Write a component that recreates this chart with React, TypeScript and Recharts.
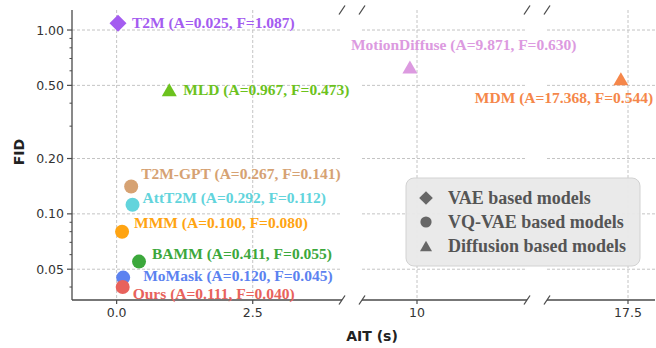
import { ScatterChart, Scatter, XAxis, YAxis, CartesianGrid } from 'recharts';

// model data
const modelNames = ['T2M', 'MLD', 'MotionDiffuse', 'MDM', 'T2M-GPT', 'AttT2M', 'MMM', 'BAMM', 'MoMask', 'Ours'];
const aitValues = [0.025, 0.967, 9.871, 17.368, 0.267, 0.292, 0.1, 0.411, 0.12, 0.111];
const fidValues = [1.087, 0.473, 0.63, 0.544, 0.141, 0.112, 0.08, 0.055, 0.045, 0.04];
const modelFamilies = ['VAE', 'Diffusion', 'Diffusion', 'Diffusion', 'VQ-VAE', 'VQ-VAE', 'VQ-VAE', 'VQ-VAE', 'VQ-VAE', 'VQ-VAE'];

const legendFamilies = ['VAE', 'VQ-VAE', 'Diffusion'];
const legendLabels = ['VAE based models', 'VQ-VAE based models', 'Diffusion based models'];

const yMajorTicks = [0.05, 0.1, 0.2, 0.5, 1.0];
const yTickLabels = ['0.05', '0.10', '0.20', '0.50', '1.00'];
const yMinorTicks = [0.04, 0.06, 0.07, 0.08, 0.09, 0.3, 0.4, 0.6, 0.7, 0.8, 0.9];

const xSegmentDomains = [[-0.82, 4.14], [9, 12], [16, 18]];
const xSegmentTicks = [[0, 2.5], [10], [17.5]];
const xSegmentTickLabels = [['0.0', '2.5'], ['10'], ['17.5']];

// styles
const colors: Record<string, string> = {
    T2M: '#a45cf0',
    MLD: '#6cc21d',
    MotionDiffuse: '#dc9ae0',
    MDM: '#f5874a',
    'T2M-GPT': '#d6a273',
    AttT2M: '#62d4dc',
    MMM: '#ffa412',
    BAMM: '#3ca83c',
    MoMask: '#5c82f0',
    Ours: '#e8625c',
};
// [dx, dy] from marker centre to label start
const labelOffsets: Record<string, [number, number]> = {
    T2M: [14, -1],
    MLD: [14, 0],
    MotionDiffuse: [-59, -22],
    MDM: [-146, 19],
    'T2M-GPT': [10, -13],
    AttT2M: [10, -7],
    MMM: [12, -9],
    BAMM: [13, -8],
    MoMask: [20, -2],
    Ours: [10, 6],
};

const W = 656;
const H = 348;
const PLOT_TOP = 10;
const PLOT_BOTTOM = 300;
const X_AXIS_H = 30;
const Y_AXIS_W = 72;
const TICK_SIZE = 5;
const TICK_MARGIN = 3;
const Y_DOMAIN: [number, number] = [0.034, 1.285];
const segmentPixels = [[72, 342], [362, 527], [547, 655]];
const AXIS_COLOR = '#4a4a4a';
const GRID_COLOR = '#c4c4c4';
const SANS = '"DejaVu Sans", sans-serif';
const SERIF = '"Liberation Serif", "Times New Roman", serif';

const points = modelNames.map((name, i) => ({
    name,
    ait: aitValues[i],
    fid: fidValues[i],
    family: modelFamilies[i],
}));

function Marker({ family, cx, cy, color, scale = 1 }: { family: string; cx: number; cy: number; color: string; scale?: number }) {
    if (family === 'VAE') {
        const s = 8.5 * scale;
        return <polygon points={`${cx},${cy - s} ${cx + s},${cy} ${cx},${cy + s} ${cx - s},${cy}`} fill={color} />;
    }
    if (family === 'Diffusion') {
        const w = 7.5 * scale;
        const h = 6.5 * scale;
        return <polygon points={`${cx},${cy - h} ${cx + w},${cy + h} ${cx - w},${cy + h}`} fill={color} />;
    }
    return <circle cx={cx} cy={cy} r={7 * scale} fill={color} />;
}

const renderPoint = (props: any) => {
    const { cx, cy, payload } = props;
    if (cx == null || cy == null) return <g />;
    const color = colors[payload.name];
    const [dx, dy] = labelOffsets[payload.name];
    return (
        <g>
            <Marker family={payload.family} cx={cx} cy={cy} color={color} />
            <text
                x={cx + dx}
                y={cy + dy}
                dominantBaseline="central"
                fill={color}
                fontFamily={SERIF}
                fontWeight="bold"
                fontSize={15.5}
            >
                {`${payload.name} (A=${payload.ait.toFixed(3)}, F=${payload.fid.toFixed(3)})`}
            </text>
        </g>
    );
};

const YTick = (props: any) => {
    const { x, y, payload } = props;
    const axisX = x + TICK_SIZE + TICK_MARGIN;
    const idx = yMajorTicks.indexOf(payload.value);
    if (idx < 0) {
        return <line x1={axisX - 2.5} x2={axisX} y1={y} y2={y} stroke={AXIS_COLOR} strokeWidth={1} />;
    }
    return (
        <g>
            <line x1={axisX - TICK_SIZE} x2={axisX} y1={y} y2={y} stroke={AXIS_COLOR} strokeWidth={1.2} />
            <text x={x} y={y} textAnchor="end" dominantBaseline="central" fill="#333" fontFamily={SANS} fontSize={12.5}>
                {yTickLabels[idx]}
            </text>
        </g>
    );
};

function Segment({ index }: { index: number }) {
    const domain = xSegmentDomains[index];
    const [left, right] = segmentPixels[index];
    const first = index === 0;
    const last = index === xSegmentDomains.length - 1;
    const data = points.filter((p) => p.ait >= domain[0] && p.ait <= domain[1]);
    const ticks = xSegmentTicks[index];
    const tickLabels = xSegmentTickLabels[index];
    const allYTicks = [...yMajorTicks, ...yMinorTicks].sort((a, b) => a - b);

    return (
        <div style={{ position: 'absolute', left: 0, top: 0 }}>
            <ScatterChart
                width={W}
                height={H}
                margin={{ top: PLOT_TOP, right: W - right, bottom: H - PLOT_BOTTOM - X_AXIS_H, left: first ? left - Y_AXIS_W : left }}
            >
                <XAxis
                    dataKey="ait"
                    type="number"
                    domain={domain}
                    ticks={ticks}
                    interval={0}
                    height={X_AXIS_H}
                    tickSize={4}
                    tickMargin={4}
                    tickFormatter={(v: number) => tickLabels[ticks.indexOf(v)] ?? String(v)}
                    tick={{ fill: '#333', fontSize: 12.5, fontFamily: SANS }}
                    tickLine={{ stroke: AXIS_COLOR, strokeWidth: 1.2 }}
                    axisLine={{ stroke: AXIS_COLOR, strokeWidth: 1.3 }}
                />
                <XAxis
                    xAxisId="top"
                    orientation="top"
                    type="number"
                    domain={domain}
                    height={0}
                    tick={false}
                    tickLine={false}
                    axisLine={{ stroke: AXIS_COLOR, strokeWidth: 1.3 }}
                />
                <YAxis
                    dataKey="fid"
                    type="number"
                    scale="log"
                    domain={Y_DOMAIN}
                    ticks={allYTicks}
                    interval={0}
                    hide={!first}
                    width={Y_AXIS_W}
                    tickSize={TICK_SIZE}
                    tickMargin={TICK_MARGIN}
                    tickLine={false}
                    tick={<YTick />}
                    axisLine={{ stroke: AXIS_COLOR, strokeWidth: 1.3 }}
                />
                {last && (
                    <YAxis
                        yAxisId="right"
                        orientation="right"
                        type="number"
                        scale="log"
                        domain={Y_DOMAIN}
                        width={0}
                        tick={false}
                        tickLine={false}
                        axisLine={{ stroke: AXIS_COLOR, strokeWidth: 1.3 }}
                    />
                )}
                <Scatter data={data} shape={renderPoint} isAnimationActive={false} />
                {/* grid drawn over the markers, as in the source figure */}
                <CartesianGrid stroke={GRID_COLOR} strokeDasharray="3 2" horizontalValues={yMajorTicks} verticalValues={ticks} />
            </ScatterChart>
        </div>
    );
}

function Overlay() {
    const breaks: number[] = [];
    for (let i = 0; i < segmentPixels.length - 1; i++) {
        breaks.push(segmentPixels[i][1], segmentPixels[i + 1][0]);
    }
    const legend = { x: 406, y: 178, w: 234, h: 88 };
    return (
        <svg width={W} height={H} style={{ position: 'absolute', left: 0, top: 0, pointerEvents: 'none' }}>
            {breaks.map((bx) =>
                [PLOT_TOP, PLOT_BOTTOM].map((by) => (
                    <line key={`${bx}-${by}`} x1={bx - 3} y1={by + 4.5} x2={bx + 3} y2={by - 4.5} stroke={AXIS_COLOR} strokeWidth={1.3} />
                ))
            )}
            <text
                transform={`translate(18.5, 152) rotate(-90)`}
                textAnchor="middle"
                dominantBaseline="central"
                fontFamily={SANS}
                fontWeight="bold"
                fontSize={14}
                fill="#222"
            >
                FID
            </text>
            <text x={372} y={336} textAnchor="middle" dominantBaseline="central" fontFamily={SANS} fontWeight="bold" fontSize={14} fill="#222">
                AIT (s)
            </text>
            <rect x={legend.x} y={legend.y} width={legend.w} height={legend.h} rx={8} fill="#e9e9e9" fillOpacity={0.94} stroke="#d2d2d2" />
            {legendFamilies.map((fam, i) => (
                <g key={fam}>
                    <Marker family={fam} cx={426} cy={198 + i * 24} color="#676767" scale={0.8} />
                    <text x={448} y={198 + i * 24} dominantBaseline="central" fontFamily={SERIF} fontWeight="bold" fontSize={18} fill="#555">
                        {legendLabels[i]}
                    </text>
                </g>
            ))}
        </svg>
    );
}

export default function App() {
    return (
        <div style={{ position: 'absolute', left: 0, top: 0, width: W, height: H, background: '#fff' }}>
            {xSegmentDomains.map((_, i) => (
                <Segment key={i} index={i} />
            ))}
            <Overlay />
        </div>
    );
}
